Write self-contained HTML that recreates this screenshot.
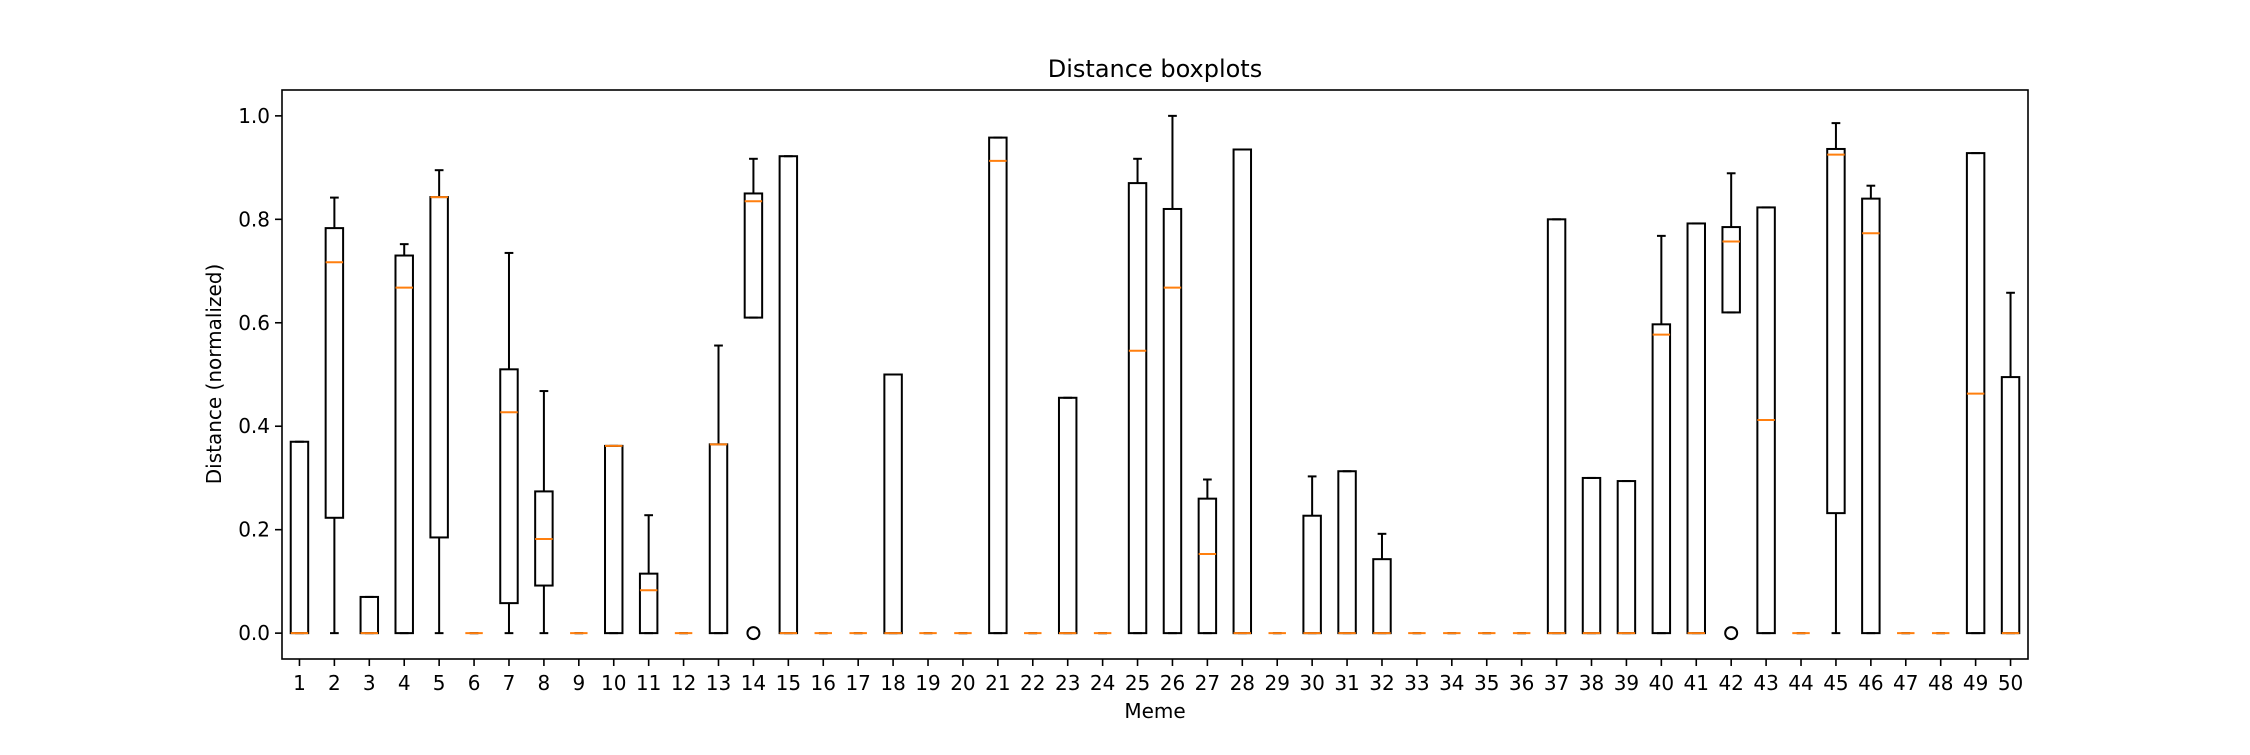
<!DOCTYPE html>
<html><head><meta charset="utf-8"><style>
body{margin:0;background:#fff}
svg text{font-family:"DejaVu Sans","Liberation Sans",sans-serif;fill:#000}
</style></head><body>
<svg id="chart" width="2250" height="750" xmlns="http://www.w3.org/2000/svg">
<rect width="2250" height="750" fill="#fff"/>
<g id="plot"></g>
<text x="1155" y="77" font-size="24" text-anchor="middle">Distance boxplots</text>
<text x="1155" y="718" font-size="20" text-anchor="middle">Meme</text>
<text transform="translate(221,374) rotate(-90)" font-size="20" text-anchor="middle">Distance (normalized)</text>
</svg>
<script>
const categories = Array.from({length:50},(_,i)=>String(i+1));
const q1Values  = [0,.223,0,0,.185,0,.058,.092,0,0,0,0,0,.61,0,0,0,0,0,0,0,0,0,0,0,0,0,0,0,0,0,0,0,0,0,0,0,0,0,0,0,.62,0,0,.232,0,0,0,0,0];
const medValues = [0,.717,0,.668,.843,0,.427,.182,0,.362,.083,0,.365,.835,0,0,0,0,0,0,.913,0,0,0,.546,.668,.153,0,0,0,0,0,0,0,0,0,0,0,0,.577,0,.757,.412,0,.925,.773,0,0,.463,0];
const q3Values  = [.37,.783,.07,.73,.843,0,.51,.274,0,.362,.115,0,.365,.85,.922,0,0,.5,0,0,.958,0,.455,0,.87,.82,.26,.935,0,.227,.313,.143,0,0,0,0,.80,.30,.294,.597,.792,.785,.823,0,.936,.84,0,0,.928,.495];
const whiskLo   = [0,0,0,0,0,0,0,0,0,0,0,0,0,.61,0,0,0,0,0,0,0,0,0,0,0,0,0,0,0,0,0,0,0,0,0,0,0,0,0,0,0,.62,0,0,0,0,0,0,0,0];
const whiskHi   = [.37,.842,.07,.752,.895,0,.735,.468,0,.362,.228,0,.556,.917,.922,0,0,.5,0,0,.958,0,.455,0,.917,1.0,.297,.935,0,.303,.313,.192,0,0,0,0,.80,.30,.294,.768,.792,.889,.823,0,.986,.865,0,0,.928,.658];
const fliers    = [[],[],[],[],[],[],[],[],[],[],[],[],[],[0],[],[],[],[],[],[],[],[],[],[],[],[],[],[],[],[],[],[],[],[],[],[],[],[],[],[],[],[0],[],[],[],[],[],[],[],[]];
const yTicks = [0,0.2,0.4,0.6,0.8,1.0];
const yTickLabels = ["0.0","0.2","0.4","0.6","0.8","1.0"];

const L=282,R=2028,T=90,B=659;
const xs = i => L + (i+0.5)*(R-L)/50;
const ys = v => B - (v+0.05)*(B-T)/1.1;
const NS="http://www.w3.org/2000/svg";
const g=document.getElementById('plot');
function mk(tag,attrs,parent){const e=document.createElementNS(NS,tag);for(const k in attrs)e.setAttribute(k,attrs[k]);(parent||g).appendChild(e);return e;}
const bw=(R-L)/50*0.5;
categories.forEach((c,i)=>{
  const x=xs(i);
  const grp=mk('g',{});
  
  
  const st={stroke:'#000','stroke-width':2,fill:'none'};
  if(whiskLo[i]<q1Values[i]) mk('line',Object.assign({x1:x,x2:x,y1:ys(whiskLo[i]),y2:ys(q1Values[i])},st),grp);
  if(whiskHi[i]>q3Values[i]) mk('line',Object.assign({x1:x,x2:x,y1:ys(q3Values[i]),y2:ys(whiskHi[i])},st),grp);
  mk('line',Object.assign({x1:x-bw/4,x2:x+bw/4,y1:ys(whiskLo[i]),y2:ys(whiskLo[i])},st),grp);
  mk('line',Object.assign({x1:x-bw/4,x2:x+bw/4,y1:ys(whiskHi[i]),y2:ys(whiskHi[i])},st),grp);
  mk('rect',Object.assign({x:x-bw/2,y:ys(q3Values[i]),width:bw,height:Math.max(0,ys(q1Values[i])-ys(q3Values[i]))},st),grp);
  mk('line',{x1:x-bw/2,x2:x+bw/2,y1:ys(medValues[i]),y2:ys(medValues[i]),stroke:'#ff7f0e','stroke-width':2},grp);
  fliers[i].forEach(f=>{
    const ci=mk('circle',{cx:x,cy:ys(f),r:6,fill:'none',stroke:'#000','stroke-width':2},grp);
    
    
  });
  mk('line',{x1:x,x2:x,y1:B,y2:B+7,stroke:'#000','stroke-width':1.6});
  const t=mk('text',{x:x,y:B+31,'font-size':20,'text-anchor':'middle'});
  t.textContent=c;
  
  
});
yTicks.forEach((v,k)=>{
  const y=ys(v);
  mk('line',{x1:L-7,x2:L,y1:y,y2:y,stroke:'#000','stroke-width':1.6});
  const t=mk('text',{x:L-12,y:y+7,'font-size':20,'text-anchor':'end'});
  t.textContent=yTickLabels[k];
  
  
});
const fr=mk('rect',{x:L,y:T,width:R-L,height:B-T,fill:'none',stroke:'#000','stroke-width':1.6});


</script>
</body></html>
